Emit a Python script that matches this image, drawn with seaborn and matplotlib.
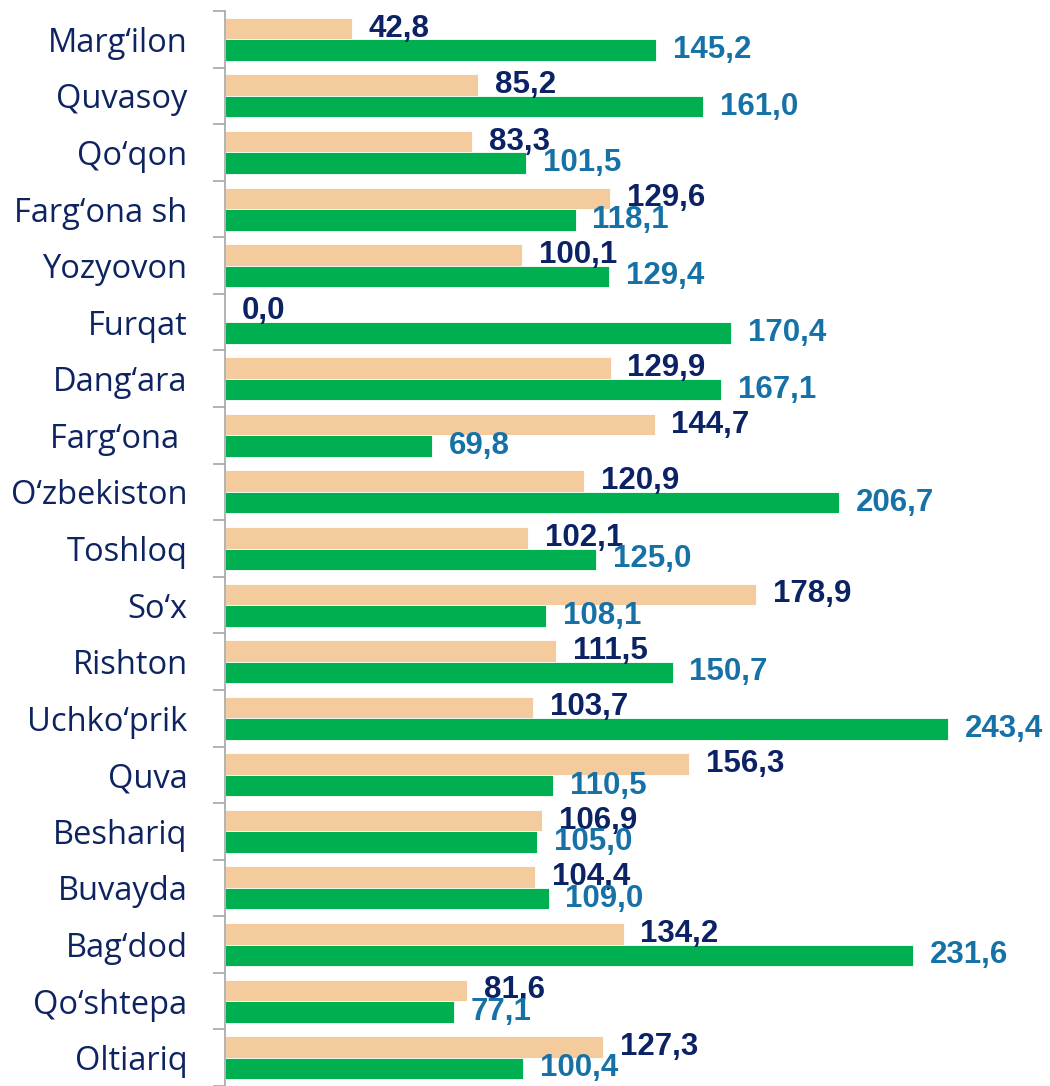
import matplotlib
matplotlib.use("Agg")
import matplotlib.pyplot as plt
import seaborn as sns
import pandas as pd
import numpy as np

categories = ["Marg\u2018ilon", "Quvasoy", "Qo\u2018qon", "Farg\u2018ona sh", "Yozyovon", "Furqat",
              "Dang\u2018ara", "Farg\u2018ona ", "O\u2018zbekiston", "Toshloq", "So\u2018x", "Rishton",
              "Uchko\u2018prik", "Quva", "Beshariq", "Buvayda", "Bag\u2018dod", "Qo\u2018shtepa", "Oltiariq"]
series_a = [42.8, 85.2, 83.3, 129.6, 100.1, 0.0, 129.9, 144.7, 120.9, 102.1,
            178.9, 111.5, 103.7, 156.3, 106.9, 104.4, 134.2, 81.6, 127.3]
series_b = [145.2, 161.0, 101.5, 118.1, 129.4, 170.4, 167.1, 69.8, 206.7, 125.0,
            108.1, 150.7, 243.4, 110.5, 105.0, 109.0, 231.6, 77.1, 100.4]
series_names = ["A", "B"]

df = pd.DataFrame({
    "category": categories * 2,
    "value": series_a + series_b,
    "series": [series_names[0]] * len(categories) + [series_names[1]] * len(categories),
})

sns.set_theme(style="white")
plt.rcParams["font.family"] = ["DejaVu Sans"]

fig = plt.figure(figsize=(10.5, 10.86), dpi=100)
ax = fig.add_axes([225 / 1050, 0.0, 825 / 1050, (1086 - 11) / 1086])

palette = {"A": "#F4CB9C", "B": "#00B050"}
sns.barplot(data=df, y="category", x="value", hue="series", order=categories,
            palette=palette, orient="h", width=0.76, ax=ax, legend=False,
            edgecolor="white", linewidth=0.6, saturation=1)

ax.set_xlim(0, 825 / 2.97)
ax.set_ylim(len(categories) - 0.5, -0.5)
ax.set_xlabel("")
ax.set_ylabel("")
ax.set_xticks([])

for s in ["top", "right", "bottom"]:
    ax.spines[s].set_visible(False)
ax.spines["left"].set_color("#A6A6A6")
ax.spines["left"].set_linewidth(1.2)

ax.set_yticks(range(len(categories)))
ax.set_yticklabels(categories, fontfamily="Open Sans", fontsize=23.5, color="#0E2461")
ax.tick_params(axis="y", which="major", length=0, pad=27)
ax.set_yticks(np.arange(-0.5, len(categories), 1.0), minor=True)
ax.tick_params(axis="y", which="minor", length=9, width=1.2, color="#A6A6A6", left=True)

label_colors = ["#0B2265", "#1672A6"]
for cont, col in zip(ax.containers, label_colors):
    labels = [f"{v:.1f}".replace(".", ",") for v in cont.datavalues]
    ax.bar_label(cont, labels=labels, padding=12, color=col, fontsize=22.5,
                 fontweight="bold", fontfamily="Liberation Sans")

fig.savefig("out.png", dpi=100)
